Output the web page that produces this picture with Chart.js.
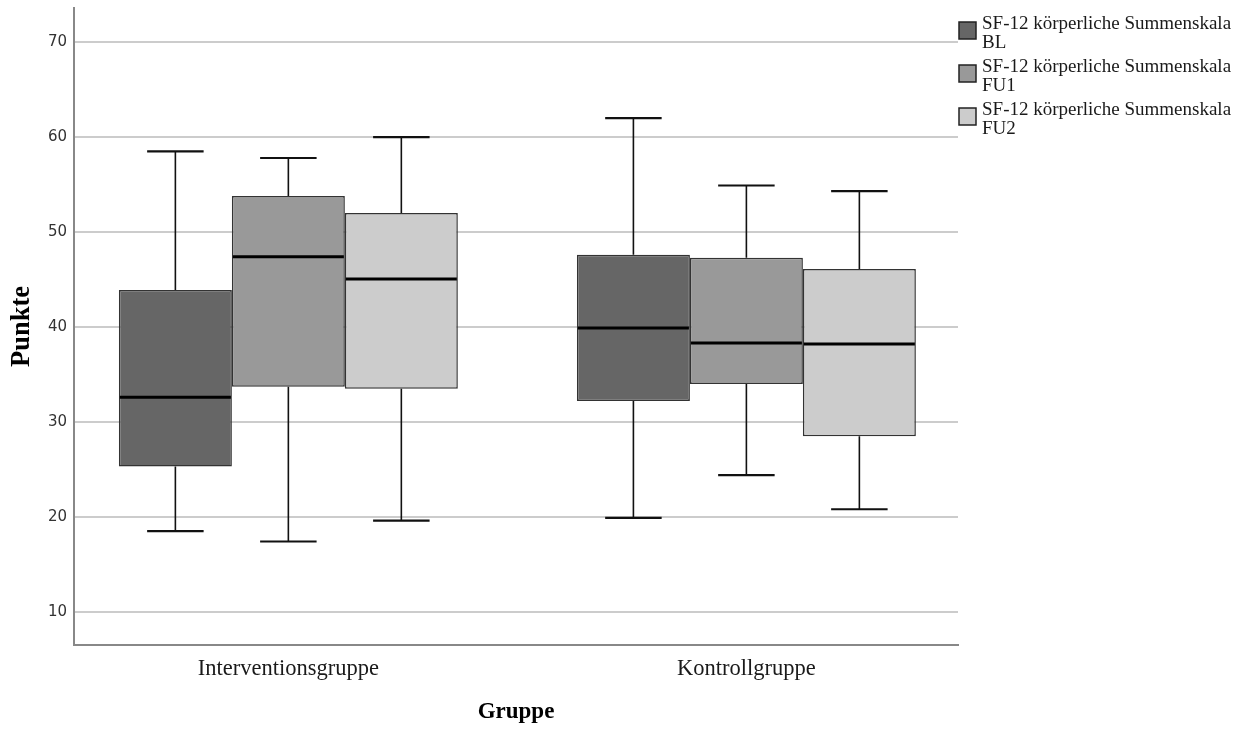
<!DOCTYPE html>
<html>
<head>
<meta charset="utf-8">
<script src="https://cdn.jsdelivr.net/npm/chart.js@4"></script>
<style>
  html, body { margin: 0; padding: 0; background: #fff; }
  #wrap { width: 1250px; height: 729px; }
</style>
</head>
<body>
<div id="wrap"><canvas id="chart" width="1250" height="729"></canvas></div>
<script>
// Box plot of SF-12 physical sum scale per group (BL / FU1 / FU2)
const groups = ['Interventionsgruppe', 'Kontrollgruppe'];
const groupPos = [0, 1];
const seriesLines = [
  ['SF-12 körperliche Summenskala', 'BL'],
  ['SF-12 körperliche Summenskala', 'FU1'],
  ['SF-12 körperliche Summenskala', 'FU2']
];
const seriesColors = ['#666666', '#999999', '#cccccc'];

// five-number summaries, one value per group
const blMin = [18.5, 19.9];
const blQ1  = [25.3, 32.2];
const blMed = [32.6, 39.9];
const blQ3  = [43.9, 47.6];
const blMax = [58.5, 62.0];

const fu1Min = [17.4, 24.4];
const fu1Q1  = [33.7, 34.0];
const fu1Med = [47.4, 38.3];
const fu1Q3  = [53.8, 47.3];
const fu1Max = [57.8, 54.9];

const fu2Min = [19.6, 20.8];
const fu2Q1  = [33.5, 28.5];
const fu2Med = [45.05, 38.2];
const fu2Q3  = [52.0, 46.1];
const fu2Max = [60.0, 54.3];

const yTicks = [10, 20, 30, 40, 50, 60, 70];

const stats = [
  { min: blMin, q1: blQ1, med: blMed, q3: blQ3, max: blMax },
  { min: fu1Min, q1: fu1Q1, med: fu1Med, q3: fu1Q3, max: fu1Max },
  { min: fu2Min, q1: fu2Q1, med: fu2Med, q3: fu2Q3, max: fu2Max }
];

const SERIF = '"Liberation Serif", "Times New Roman", serif';

// ─── whiskers + medians ───────────────────────────────────────────────────────
const boxExtras = {
  id: 'boxExtras',
  afterDatasetsDraw(chart) {
    const ctx = chart.ctx;
    const y = chart.scales.y;
    ctx.save();
    stats.forEach((s, di) => {
      const meta = chart.getDatasetMeta(di);
      meta.data.forEach((bar, i) => {
        const cx = bar.x;
        const half = bar.width / 2;
        const cap = bar.width / 4;
        const pMin = y.getPixelForValue(s.min[i]);
        const pQ1 = y.getPixelForValue(s.q1[i]);
        const pQ3 = y.getPixelForValue(s.q3[i]);
        const pMax = y.getPixelForValue(s.max[i]);
        const pMed = y.getPixelForValue(s.med[i]);

        ctx.strokeStyle = '#111';
        ctx.lineWidth = 1.6;
        ctx.beginPath();
        ctx.moveTo(cx, pQ3); ctx.lineTo(cx, pMax);
        ctx.moveTo(cx, pQ1); ctx.lineTo(cx, pMin);
        ctx.stroke();

        ctx.lineWidth = 2.2;
        ctx.beginPath();
        ctx.moveTo(cx - cap, pMax); ctx.lineTo(cx + cap, pMax);
        ctx.moveTo(cx - cap, pMin); ctx.lineTo(cx + cap, pMin);
        ctx.stroke();

        ctx.strokeStyle = '#000';
        ctx.lineWidth = 3;
        ctx.beginPath();
        ctx.moveTo(cx - half + 1, pMed); ctx.lineTo(cx + half - 1, pMed);
        ctx.stroke();
      });
    });
    ctx.restore();
  }
};

// ─── legend on the right ──────────────────────────────────────────────────────
const sideLegend = {
  id: 'sideLegend',
  afterDraw(chart) {
    const ctx = chart.ctx;
    ctx.save();
    ctx.font = '19px ' + SERIF;
    ctx.textBaseline = 'alphabetic';
    seriesLines.forEach((lines, i) => {
      const top = 22 + i * 43;
      ctx.fillStyle = seriesColors[i];
      ctx.fillRect(959, top, 17, 17);
      ctx.strokeStyle = '#222';
      ctx.lineWidth = 1.5;
      ctx.strokeRect(959, top, 17, 17);
      ctx.fillStyle = '#1a1a1a';
      lines.forEach((t, k) => ctx.fillText(t, 982, top + 7 + k * 19));
    });
    ctx.restore();
  }
};

const datasets = stats.map((s, di) => ({
  label: seriesLines[di].join(' '),
  data: groupPos.map((x, i) => ({ x, y: [s.q1[i], s.q3[i]] })),
  backgroundColor: seriesColors[di],
  borderColor: '#333',
  borderWidth: 1.5,
  borderSkipped: false,
  categoryPercentage: 0.74,
  barPercentage: 1
}));

new Chart(document.getElementById('chart'), {
  type: 'bar',
  data: { datasets },
  options: {
    responsive: false,
    animation: false,
    layout: { padding: { top: 8, right: 292, left: 0, bottom: 0 } },
    plugins: { legend: { display: false }, tooltip: { enabled: false } },
    scales: {
      x: {
        type: 'linear',
        offset: false,
        min: -0.468,
        max: 1.462,
        afterBuildTicks: s => { s.ticks = groupPos.map(v => ({ value: v })); },
        afterFit: s => { s.height = 84; s.paddingLeft = 0; s.paddingRight = 0; },
        grid: { display: false, drawTicks: false },
        border: { display: true, color: '#888', width: 2 },
        ticks: {
          callback: v => groups[groupPos.indexOf(v)],
          color: '#1a1a1a',
          font: { family: SERIF, size: 22.5 },
          padding: 11,
          maxRotation: 0
        },
        title: {
          display: true,
          text: 'Gruppe',
          color: '#000',
          font: { family: SERIF, size: 23, weight: 'bold' },
          padding: { top: 0, bottom: 3 }
        }
      },
      y: {
        min: 6.5,
        max: 73.6,
        afterBuildTicks: s => { s.ticks = yTicks.map(v => ({ value: v })); },
        afterFit: s => { s.width = 74; s.paddingTop = 0; s.paddingBottom = 0; },
        grid: { color: '#cccccc', lineWidth: 2, drawTicks: false },
        border: { display: true, color: '#888', width: 2 },
        ticks: {
          color: '#333',
          font: { family: '"DejaVu Sans", sans-serif', size: 15 },
          padding: 7
        },
        title: {
          display: true,
          text: 'Punkte',
          color: '#000',
          font: { family: SERIF, size: 26.5, weight: 'bold' },
          padding: { top: 6, bottom: 0 }
        }
      }
    }
  },
  plugins: [boxExtras, sideLegend]
});
</script>
</body>
</html>
